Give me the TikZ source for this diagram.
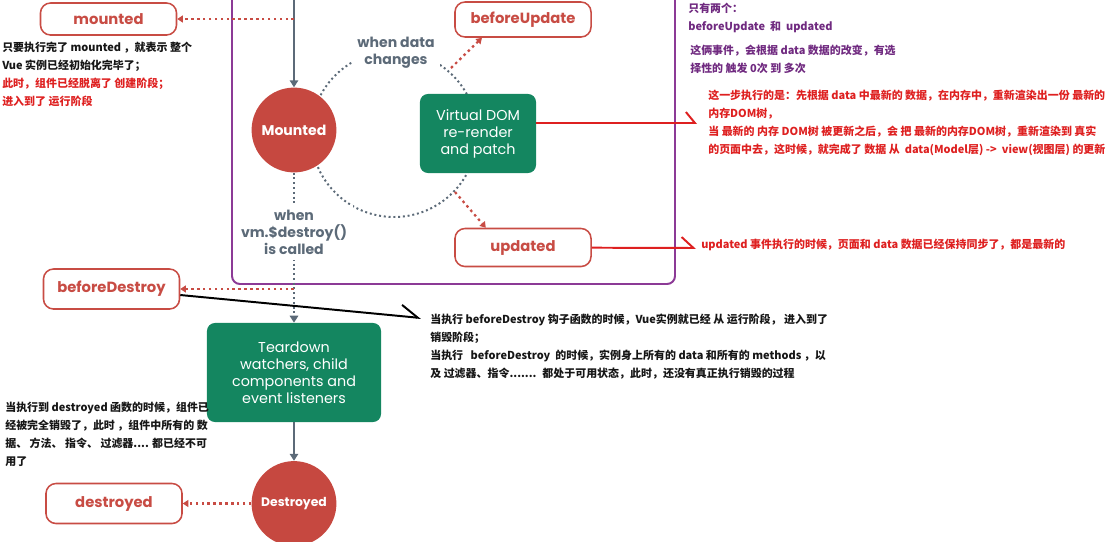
\documentclass[tikz,border=0pt]{standalone}
\usepackage{fontspec}
\usepackage{tikz}
\usetikzlibrary{arrows.meta}
\newfontfamily\vuefont{Poppins}
\newfontfamily\cjk{Noto Sans CJK SC}
\definecolor{hookred}{RGB}{200,76,68}
\definecolor{stagered}{RGB}{198,72,64}
\definecolor{vuegreen}{RGB}{20,134,96}
\definecolor{slate}{RGB}{92,106,120}
\definecolor{framepurple}{RGB}{140,58,150}
\definecolor{notered}{RGB}{222,32,32}
\definecolor{notepurple}{RGB}{112,42,128}
\definecolor{noteblack}{RGB}{22,22,22}

\begin{document}
\begin{tikzpicture}[x=0.025cm, y=-0.025cm,
    hook/.style={rectangle, draw=hookred, line width=1.1pt, rounded corners=0.25cm, fill=white, text=hookred,
        font=\vuefont\bfseries\fontsize{10.5}{12}\selectfont, minimum width=3.4cm, minimum height=0.95cm},
    stage/.style={circle, fill=stagered, text=white, inner sep=0pt, minimum size=2.12cm,
        font=\vuefont\bfseries\fontsize{10}{12}\selectfont},
    work/.style={rectangle, rounded corners=0.2cm, fill=vuegreen, text=white, align=center,
        font=\vuefont\fontsize{10.2}{12.1}\selectfont},
    cond/.style={fill=white, text=slate, align=center, font=\vuefont\bfseries\fontsize{10}{12.1}\selectfont},
    flow/.style={draw=slate, line width=1.4pt, -{Triangle[length=5pt, width=6pt]}},
    maybe/.style={draw=slate, line width=1.4pt, dash pattern=on 1.4pt off 2pt},
    hookarrow/.style={draw=hookred, line width=1.6pt, dash pattern=on 1.8pt off 2.4pt, -{Triangle[length=4pt, width=5pt]}},
    noteline/.style={line width=1.4pt},
    note/.style={anchor=west, align=left, inner sep=0pt, text=noteblack, font=\cjk\bfseries\fontsize{7.8}{12.8}\selectfont}
]
    \useasboundingbox (0,0) rectangle (1119,541);
    \clip (0,0) rectangle (1119,541);

    % Update loop frame
    \draw[framepurple, line width=1.4pt, rounded corners=0.2cm] (232,-20) rectangle (675,284);
    \draw[maybe] (394,134) circle[radius=83];

    % Lines out to the notes
    \coordinate (vnote) at (697,123);
    \coordinate (unote) at (696,248);
    \coordinate (bnote) at (421,318);

    % Hooks
    \node[hook, minimum height=0.8cm] (mounted) at (108.5,19) {mounted};
    \node[hook, minimum height=0.875cm] (beforeUpdate) at (523,19.5) {beforeUpdate};
    \node[hook] (updated) at (523,247.5) {updated};
    \node[hook, minimum height=1cm] (beforeDestroy) at (111.5,289) {beforeDestroy};
    \node[hook, minimum height=1cm] (destroyed) at (114,503.5) {destroyed};

    % Stages
    \node[stage] (Mounted) at (294,130) {Mounted};
    \node[stage, font=\vuefont\bfseries\fontsize{8.8}{10}\selectfont] (Destroyed) at (294,503.5) {Destroyed};
    \node[work, minimum width=2.9cm, minimum height=1.975cm] (vdom) at (478,133.5) {Virtual DOM\\re-render\\and patch};
    \node[work, minimum width=4.35cm, minimum height=2.475cm] (teardown) at (294,372.5)
        {Teardown\\watchers, child\\components and\\event listeners};

    % Flow
    \coordinate (entry) at (294,-10);
    \coordinate (mtap) at (294,19);
    \coordinate (dtap) at (294,289);
    \coordinate (cup) at (451,68);
    \coordinate (cdown) at (455,192);
    \draw[flow] (entry) -- (Mounted);
    \draw[hookarrow] (mtap) -- (mounted);
    \draw[hookarrow] (cup) -- (beforeUpdate.204);
    \draw[hookarrow] (cdown) -- (updated.152);
    \draw[maybe, -{Triangle[length=5pt, width=6pt]}] (Mounted) -- (teardown);
    \draw[hookarrow] (dtap) -- (beforeDestroy);
    \draw[flow] (teardown) -- (Destroyed);
    \draw[hookarrow] (Destroyed) -- (destroyed);

    \draw[noteline, notered, -{Straight Barb[harpoon, length=6.4pt, width=15.6pt]}] (vdom.east |- vnote) -- (vnote);
    \draw[noteline, notered, -{Straight Barb[harpoon, length=8.5pt, width=15.6pt]}] (updated) -- (unote);
    \draw[noteline, black, -{Straight Barb[harpoon, length=12pt, width=16pt]}] (beforeDestroy.-5) -- (bnote);

    % Conditions
    \node[cond, inner sep=4pt] (dataCond) at (396,53) {when data\\changes};
    \node[cond, inner sep=4pt] (destroyCond) at (294,232.5) {when\\vm.\$destroy()\\is called};

    % Notes
    \node[note] (mountedNote) at (2,74.5) {只要执行完了 mounted ，就表示 整个\\Vue 实例已经初始化完毕了；\\
        \textcolor{notered}{此时，组件已经脱离了 创建阶段；}\\\textcolor{notered}{进入到了 运行阶段}};
    \node[note, text=notepurple] (countNote) at (688,17.5) {只有两个：\\beforeUpdate ~和 ~updated};
    \node[note, text=notepurple] (triggerNote) at (690,59) {这俩事件，会根据 data 数据的改变，有选\\择性的 触发 0次 到 多次};
    \node[note, text=notered] (renderNote) at (708,122.75) {这一步执行的是：先根据 data 中最新的 数据，在内存中，重新渲染出一份 最新的\\内存DOM树，\\
        当 最新的 内存 DOM树 被更新之后，会 把 最新的内存DOM树，重新渲染到 真实\\的页面中去，这时候，就完成了 数据 从 ~data(Model层) -> ~view(视图层) 的更新};
    \node[note, text=notered] (updatedNote) at (701,245) {updated 事件执行的时候，页面和 data 数据已经保持同步了，都是最新的};
    \node[note] (destroyNote) at (430,347) {当执行 beforeDestroy 钩子函数的时候，Vue实例就已经 从 运行阶段， 进入到了\\销毁阶段；\\
        当执行 ~~beforeDestroy ~的时候，实例身上所有的 data 和所有的 methods ，以\\及 过滤器、指令....... ~都处于可用状态，此时，还没有真正执行销毁的过程};
    \node[note] (destroyedNote) at (5,434) {当执行到 destroyed 函数的时候，组件已\\经被完全销毁了，此时 ，组件中所有的 数\\据、 方法、 指令、 过滤器.... 都已经不可\\用了};
\end{tikzpicture}
\end{document}
